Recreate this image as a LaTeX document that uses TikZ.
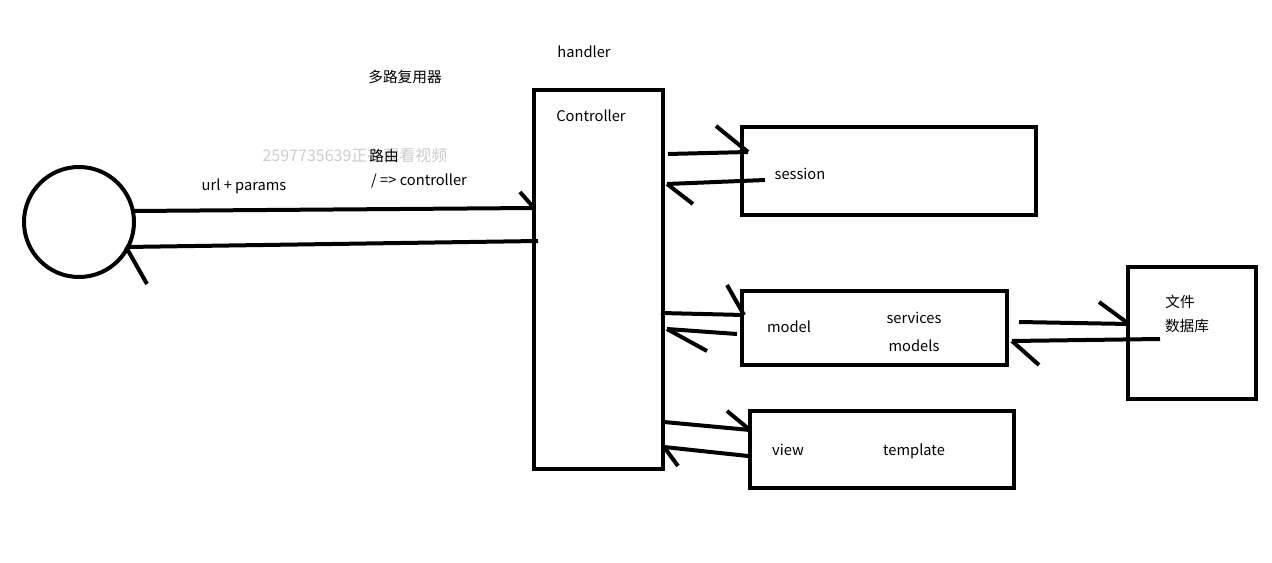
\documentclass[tikz,border=0pt]{standalone}
\usepackage{fontspec}
\setmainfont{Noto Sans CJK SC}
\usetikzlibrary{fit}

\begin{document}
\begin{tikzpicture}[x=0.75pt, y=-0.75pt, line width=3pt,
  box/.style = {draw, inner sep=0pt},
  lbl/.style = {font=\fontsize{11}{13}\selectfont, inner sep=0pt},
  faint/.style = {font=\fontsize{12}{14}\selectfont, inner sep=0pt, text=gray!40}]
\useasboundingbox (0,0) rectangle (1272,563);
%\draw[very thin, color = gray](0, 0) grid[step=50] (1272, 563);
\node[draw, circle, minimum size=82.5pt, inner sep=0pt] (client) at (79,222) {};
\node[box, fit={(534,90) (663,469)}] (ctrl) {};
\node[box, fit={(742,127) (1036,215)}] (session) {};
\node[box, fit={(742,291) (1007,365)}] (model) {};
\node[box, fit={(750,411) (1014,488)}] (view) {};
\node[box, fit={(1128,267) (1256,399)}] (db) {};
% texts
\node[lbl] (handler) at (584,52) {handler};
\node[lbl] (mux) at (405,77) {多路复用器};
\node[lbl] (ctrltext) at (591,116) {Controller};
\node[faint] (watermark) at (355,155) {2597735639正在观看视频};
\node[lbl] (route) at (384,156) {路由};
\node[lbl] (url) at (244,186) {url + params};
\node[lbl] (map) at (419,181) {/ => controller};
\node[lbl] (sessiontext) at (800,174) {session};
\node[lbl] (modeltext) at (789,327) {model};
\node[lbl] (services) at (914,318) {services};
\node[lbl] (models) at (914,346) {models};
\node[lbl] (viewtext) at (788,450) {view};
\node[lbl] (template) at (914,451) {template};
\node[lbl] (file) at (1180,302) {文件};
\node[lbl] (database) at (1187,326) {数据库};
% client <-> controller
\coordinate (c1) at (133,211);
\coordinate (k1) at (534,208);
\coordinate (c2) at (126,247);
\coordinate (k2) at (538,241);
\draw (c1) -- (k1);
\draw (k1) -- ++(-14,-16);
\draw (k2) -- (c2);
\draw (c2) -- ++(21,37);
% controller <-> session
\coordinate (a1) at (668,154);
\coordinate (s1) at (748,152);
\coordinate (s2) at (765,180);
\coordinate (a2) at (667,184);
\draw (a1) -- (s1);
\draw (s1) -- ++(-32,-26);
\draw (s2) -- (a2);
\draw (a2) -- ++(26,20);
% controller <-> model
\coordinate (a3) at (661,313);
\coordinate (m1) at (744,315);
\coordinate (m2) at (737,334);
\coordinate (a4) at (667,329);
\draw (a3) -- (m1);
\draw (m1) -- ++(-17,-30);
\draw (m2) -- (a4);
\draw (a4) -- ++(40,22);
% model <-> db
\coordinate (m3) at (1019,322);
\coordinate (d1) at (1129,324);
\coordinate (d2) at (1160,339);
\coordinate (m4) at (1012,341);
\draw (m3) -- (d1);
\draw (d1) -- ++(-30,-22);
\draw (d2) -- (m4);
\draw (m4) -- ++(27,24);
% controller <-> view
\coordinate (a5) at (664,422);
\coordinate (v1) at (750,430);
\coordinate (v2) at (748,456);
\coordinate (a6) at (664,447);
\draw (a5) -- (v1);
\draw (v1) -- ++(-23,-19);
\draw (v2) -- (a6);
\draw (a6) -- ++(14,19);
\end{tikzpicture}
\end{document}
